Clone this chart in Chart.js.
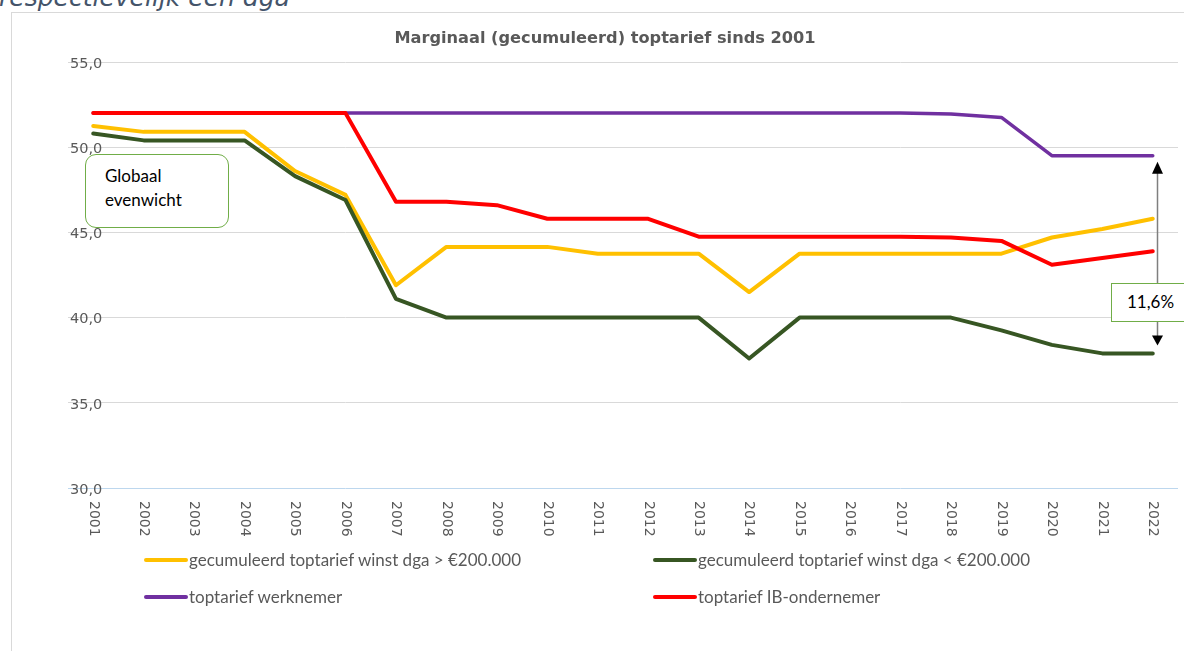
<!DOCTYPE html>
<html>
<head>
<meta charset="utf-8">
<script src="https://cdn.jsdelivr.net/npm/chart.js@4.4.1/dist/chart.umd.min.js"></script>
<style>
  html, body { margin:0; padding:0; background:#fff; overflow:hidden; }
  #wrap { position:relative; width:1184px; height:651px; overflow:hidden; }
  #frame { position:absolute; left:11px; top:12px; width:1300px; height:800px; border-left:1px solid #d9d9d9; border-top:1px solid #d9d9d9; }
  canvas { position:absolute; left:0; top:0; }
  #head { position:absolute; left:-1px; top:-16px; font:italic 25px "DejaVu Sans"; color:#44546a; white-space:nowrap; line-height:28px; }
  #title { position:absolute; left:0; width:1210px; top:28px; text-align:center; font:bold 16.2px "DejaVu Sans"; color:#595959; white-space:nowrap; }
  .box { position:absolute; background:#fff; border:1.5px solid #70ad47; font:17px Lato; color:#000; box-sizing:border-box; }
  #glob { left:85px; top:154px; width:144px; height:74px; border-radius:11px; padding:9px 0 0 19px; line-height:24px; }
  #pct { left:1111px; top:283px; width:100px; height:39px; padding:0 0 0 15px; line-height:36px; }
  .lg { position:absolute; font:17px Lato; color:#595959; white-space:nowrap; height:20px; line-height:20px; }
  .lg i { position:absolute; top:8px; height:4px; width:44px; border-radius:2px; }
  .lg span { position:absolute; left:45px; top:0; }
</style>
</head>
<body>
<div id="wrap">
  <div id="frame"></div>
  <div id="head">respectievelijk een dga</div>
  <canvas id="c" width="1184" height="651"></canvas>
  <div id="title">Marginaal (gecumuleerd) toptarief sinds 2001</div>
  <div class="box" id="glob">Globaal<br>evenwicht</div>
  <div class="box" id="pct">11,6%</div>
  <div id="legend"></div>
</div>
<script>
const years = ['2001','2002','2003','2004','2005','2006','2007','2008','2009','2010','2011','2012','2013','2014','2015','2016','2017','2018','2019','2020','2021','2022'];
const dgaHigh  = [51.25, 50.9, 50.9, 50.9, 48.6, 47.2, 41.9, 44.15, 44.15, 44.15, 43.75, 43.75, 43.75, 41.5, 43.75, 43.75, 43.75, 43.75, 43.75, 44.7, 45.2, 45.8];
const dgaLow   = [50.8, 50.4, 50.4, 50.4, 48.3, 46.9, 41.1, 40.0, 40.0, 40.0, 40.0, 40.0, 40.0, 37.6, 40.0, 40.0, 40.0, 40.0, 39.25, 38.4, 37.9, 37.9];
const werknemer = [52, 52, 52, 52, 52, 52, 52, 52, 52, 52, 52, 52, 52, 52, 52, 52, 52, 51.95, 51.75, 49.5, 49.5, 49.5];
const ibOndernemer = [52, 52, 52, 52, 52, 52, 46.8, 46.8, 46.6, 45.8, 45.8, 45.8, 44.75, 44.75, 44.75, 44.75, 44.75, 44.7, 44.5, 43.1, 43.5, 43.9];
const seriesNames = ['gecumuleerd toptarief winst dga > €200.000', 'gecumuleerd toptarief winst dga < €200.000', 'toptarief werknemer', 'toptarief IB-ondernemer'];
const seriesColors = ['#ffc000', '#375623', '#7030a0', '#ff0000'];
const yTicks = [30, 35, 40, 45, 50, 55];

// legend (HTML)
const legendPos = [[144, 550], [653, 550], [144, 587], [653, 587]];
const lg = document.getElementById('legend');
seriesNames.forEach((n, i) => {
  const d = document.createElement('div');
  d.className = 'lg';
  d.style.left = legendPos[i][0] + 'px';
  d.style.top = legendPos[i][1] + 'px';
  d.innerHTML = '<i style="background:' + seriesColors[i] + '"></i><span></span>';
  d.querySelector('span').textContent = n;
  lg.appendChild(d);
});

const xLabelPlugin = {
  id: 'xLabels',
  afterDraw(chart) {
    const ctx = chart.ctx, xs = chart.scales.x;
    ctx.save();
    ctx.font = '14px "DejaVu Sans"';
    ctx.fillStyle = '#595959';
    ctx.textAlign = 'left';
    ctx.textBaseline = 'middle';
    years.forEach((y, i) => {
      const x = xs.getPixelForValue(i);
      ctx.save();
      ctx.translate(x, 501);
      ctx.rotate(Math.PI / 2);
      ctx.fillText(y, 0, 0);
      ctx.restore();
    });
    ctx.restore();
  }
};

const arrowPlugin = {
  id: 'gapArrow',
  afterDatasetsDraw(chart) {
    const ctx = chart.ctx, xs = chart.scales.x, ys = chart.scales.y;
    const last = years.length - 1;
    const x = Math.round(xs.getPixelForValue(last)) + 4.5;
    const yTop = ys.getPixelForValue(werknemer[last]) + 6;
    const yBot = ys.getPixelForValue(dgaLow[last]) - 8;
    ctx.save();
    ctx.strokeStyle = '#7f7f7f';
    ctx.lineWidth = 1.5;
    ctx.beginPath();
    ctx.moveTo(x, yTop + 10);
    ctx.lineTo(x, yBot - 9);
    ctx.stroke();
    ctx.fillStyle = '#000';
    ctx.beginPath();
    ctx.moveTo(x, yTop); ctx.lineTo(x - 5.5, yTop + 12); ctx.lineTo(x + 5.5, yTop + 12); ctx.closePath();
    ctx.fill();
    ctx.beginPath();
    ctx.moveTo(x, yBot); ctx.lineTo(x - 5.5, yBot - 10); ctx.lineTo(x + 5.5, yBot - 10); ctx.closePath();
    ctx.fill();
    ctx.restore();
  }
};

const dataArrays = [dgaHigh, dgaLow, werknemer, ibOndernemer];
const orders = [4, 3, 2, 1];

new Chart(document.getElementById('c'), {
  type: 'line',
  data: {
    labels: years,
    datasets: dataArrays.map((arr, i) => ({
      label: seriesNames[i],
      data: arr,
      borderColor: seriesColors[i],
      backgroundColor: seriesColors[i],
      borderWidth: i === 2 ? 3.5 : 4,
      pointRadius: 0,
      tension: 0,
      borderCapStyle: 'round',
      borderJoinStyle: 'round',
      order: orders[i]
    }))
  },
  options: {
    responsive: false,
    animation: false,
    layout: { padding: { left: 0, right: 6, top: 62, bottom: 0 } },
    plugins: { legend: { display: false }, tooltip: { enabled: false }, title: { display: false } },
    scales: {
      x: {
        type: 'category',
        offset: true,
        grid: { display: false },
        border: { display: false },
        ticks: { display: false },
        afterFit(s) { s.height = 163; }
      },
      y: {
        min: 30, max: 55,
        afterBuildTicks(s) { s.ticks = yTicks.map(v => ({ value: v })); },
        grid: {
          drawTicks: false,
          color: ctx => (ctx.tick && ctx.tick.value === 30) ? '#bdd7ee' : '#d9d9d9',
          lineWidth: 1
        },
        border: { display: false },
        ticks: {
          mirror: true,
          padding: 2,
          labelOffset: 2,
          color: '#595959',
          font: { family: 'DejaVu Sans', size: 14.5 },
          callback: v => Number(v).toFixed(1).replace('.', ',')
        },
        afterFit(s) { s.width = 68; }
      }
    }
  },
  plugins: [xLabelPlugin, arrowPlugin]
});
</script>
</body>
</html>
